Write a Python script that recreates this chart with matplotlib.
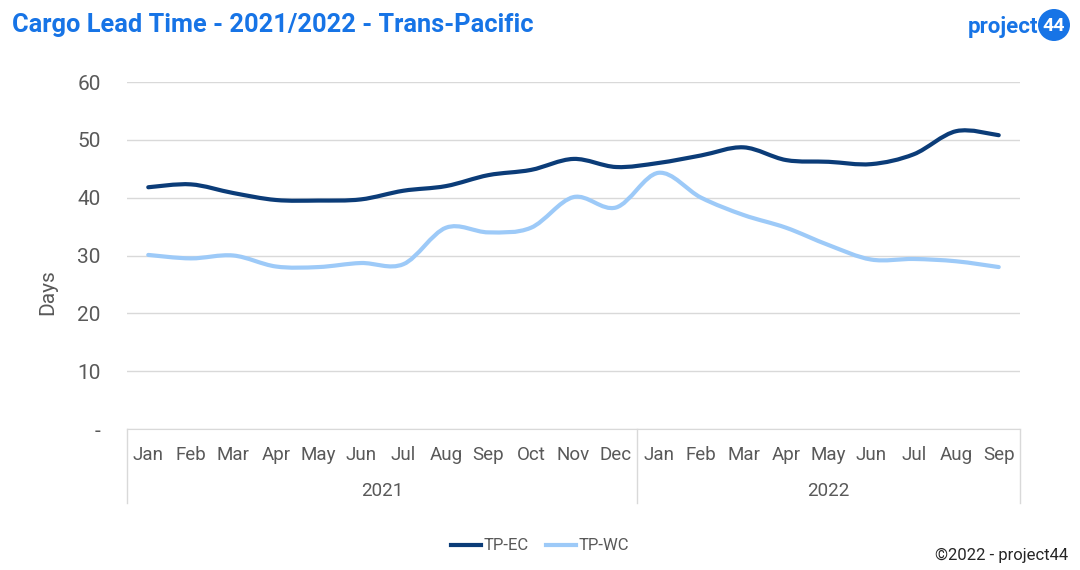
import matplotlib
matplotlib.use("Agg")
import matplotlib.pyplot as plt
from matplotlib.path import Path
from matplotlib.patches import PathPatch, Circle
from matplotlib.lines import Line2D
import numpy as np

plt.rcParams['font.family'] = ['Roboto', 'DejaVu Sans']

months = ["Jan", "Feb", "Mar", "Apr", "May", "Jun", "Jul", "Aug", "Sep", "Oct", "Nov", "Dec",
          "Jan", "Feb", "Mar", "Apr", "May", "Jun", "Jul", "Aug", "Sep"]
years = ["2021", "2022"]
year_counts = [12, 9]
tp_ec = [41.8, 42.3, 40.8, 39.6, 39.5, 39.7, 41.2, 42.0, 43.9, 44.8, 46.7, 45.3,
         46.0, 47.3, 48.7, 46.5, 46.2, 45.8, 47.5, 51.5, 50.8]
tp_wc = [30.1, 29.5, 30.0, 28.1, 28.0, 28.7, 28.5, 34.8, 34.0, 34.8, 40.1, 38.3,
         44.3, 40.0, 37.0, 34.8, 31.8, 29.3, 29.4, 29.0, 28.0]
yticks = [0, 10, 20, 30, 40, 50, 60]
ytick_labels = ["-", "10", "20", "30", "40", "50", "60"]

EC_COLOR = "#0B3C78"
WC_COLOR = "#9DCAF8"
TEXT = "#595959"
GRID = "#D9D9D9"
BLUE = "#1774E6"

fig = plt.figure(figsize=(10.8, 5.7), dpi=100)
ax = fig.add_axes([127/1080, 1-429/570, (1020-127)/1080, (429-82)/570])


def smooth_path(xs, ys):
    pts = np.column_stack([xs, ys]).astype(float)
    n = len(pts)
    verts = [pts[0]]
    codes = [Path.MOVETO]
    for i in range(n - 1):
        p0 = pts[i - 1] if i > 0 else pts[i]
        p1 = pts[i]
        p2 = pts[i + 1]
        p3 = pts[i + 2] if i + 2 < n else pts[i + 1]
        c1 = p1 + (p2 - p0) / 6.0
        c2 = p2 - (p3 - p1) / 6.0
        verts += [c1, c2, p2]
        codes += [Path.CURVE4] * 3
    return Path(verts, codes)


x = np.arange(len(months))
for vals, col in [(tp_ec, EC_COLOR), (tp_wc, WC_COLOR)]:
    patch = PathPatch(smooth_path(x, vals), facecolor="none", edgecolor=col,
                      lw=3.0, capstyle="round", joinstyle="round", zorder=3)
    ax.add_patch(patch)

ax.set_xlim(-0.5, len(months) - 0.5)
ax.set_ylim(0, 60)
ax.set_yticks(yticks)
ax.set_yticklabels(ytick_labels)
ax.yaxis.grid(True, color=GRID, lw=1)
ax.set_axisbelow(True)
for s in ["top", "right", "left"]:
    ax.spines[s].set_visible(False)
ax.spines["bottom"].set_color(GRID)
ax.tick_params(axis="y", length=0, pad=19, labelsize=15, labelcolor=TEXT)
ax.set_xticks(x)
ax.set_xticklabels(months)
ax.tick_params(axis="x", length=0, pad=12, labelsize=13.5, labelcolor=TEXT)
ax.set_ylabel("Days", fontsize=15, color=TEXT)
ax.yaxis.set_label_coords((57 - 127) / 893, (429 - 292) / 347)

# multi-level category axis box
box_bottom = (429 - 503) / (429 - 82)
trans = ax.get_xaxis_transform()
bounds = [-0.5]
for c in year_counts:
    bounds.append(bounds[-1] + c)
for b in bounds:
    ax.plot([b, b], [0, box_bottom], transform=trans, color=GRID, lw=1, clip_on=False)
start = -0.5
for yr, c in zip(years, year_counts):
    ax.text(start + c / 2, (429 - 491) / (429 - 82), yr, transform=trans, ha="center",
            va="center", fontsize=13.5, color=TEXT)
    start += c

# title
fig.text(12/1080, 1-25/570, "Cargo Lead Time - 2021/2022 - Trans-Pacific", fontsize=18.3,
         fontweight="bold", color=BLUE, ha="left", va="center")

# logo
fig.text(1038/1080, 1-27/570, "project", fontsize=16, fontweight="bold", color=BLUE,
         ha="right", va="center")
fig.add_artist(Circle((10.54, 5.45), 0.16, transform=fig.dpi_scale_trans,
                      facecolor=BLUE, edgecolor="none"))
fig.text(1054/1080, 1-26/570, "44", fontsize=14, fontweight="bold", color="white",
         ha="center", va="center")

# legend
handles = [Line2D([0], [0], color=EC_COLOR, lw=3), Line2D([0], [0], color=WC_COLOR, lw=3)]
leg = fig.legend(handles, ["TP-EC", "TP-WC"], loc="center", bbox_to_anchor=(0.5, 1-546/570),
                 ncol=2, frameon=False, fontsize=12, handlelength=1.8, handletextpad=0.15,
                 columnspacing=1.0)
for t in leg.get_texts():
    t.set_color(TEXT)

fig.text(1068/1080, 1-555/570, "\u00a92022 - project44", fontsize=12, color="#262626",
         ha="right", va="center")

fig.savefig("out.png", dpi=100, facecolor="white")
